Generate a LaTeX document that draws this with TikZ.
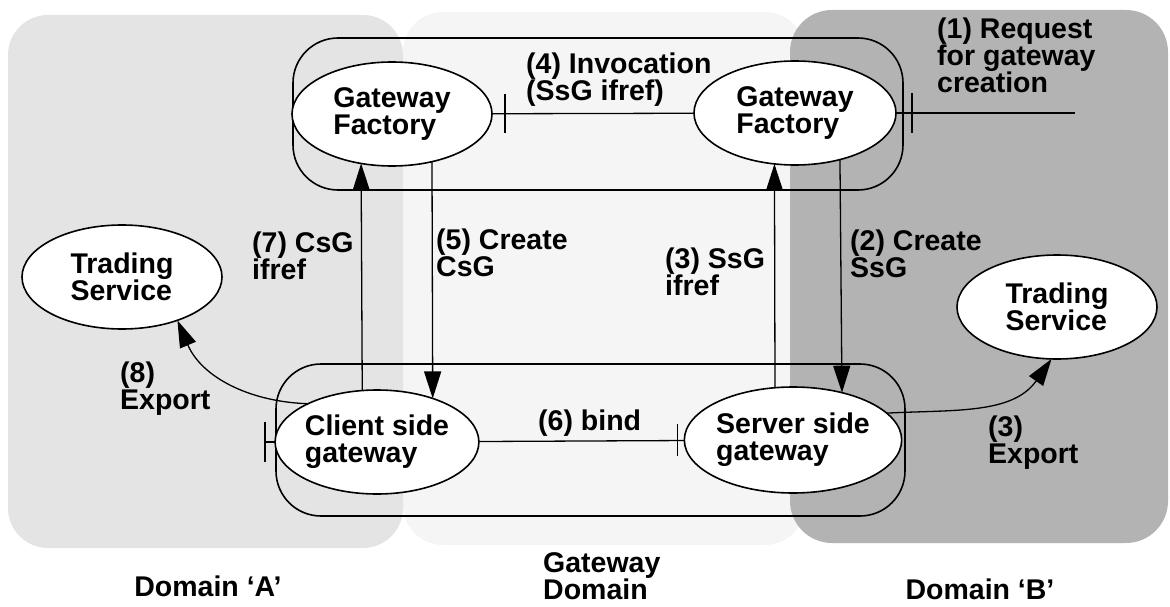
\documentclass[tikz,border=0pt]{standalone}
\usepackage{fontspec}
\setmainfont{Liberation Sans}
\usetikzlibrary{arrows.meta,shapes.geometric,calc}
\definecolor{domA}{RGB}{228,228,228}
\definecolor{domG}{RGB}{245,245,245}
\definecolor{domB}{RGB}{179,179,179}
\begin{document}
\begin{tikzpicture}[x=1pt,y=-1pt,
  every node/.style={font=\fontsize{28.5}{27}\selectfont\bfseries},
  proc/.style={ellipse, draw, line width=1.6pt, fill=white, inner sep=0pt, outer sep=0pt,
               align=left, minimum width=200pt, minimum height=104pt},
  lbl/.style={anchor=north west, align=left, inner sep=0pt},
  dlbl/.style={anchor=north, align=center, inner sep=0pt},
  conn/.style={line width=1.3pt},
  arr/.style={conn, -{Triangle[length=27pt,width=17pt]}},
  grp/.style={draw, line width=1.6pt, rounded corners=45pt},
  tickmark/.style={line width=1.3pt}]
\useasboundingbox (0,0) rectangle (1170,607);
% domains
\fill[domG, rounded corners=40pt] (403,12) rectangle (805,545);
\fill[domA, rounded corners=40pt] (8,15) rectangle (403,548);
\fill[domB, rounded corners=42pt] (790,10) rectangle (1168,543);
% group boxes
\draw[grp] (293,38) rectangle (903,190);
\draw[grp] (276,364) rectangle (905,516);
% ellipses
\node[proc] (gfl) at (392,114) {Gateway\\Factory};
\node[proc, minimum width=202pt] (gfr) at (795,113) {Gateway\\Factory};
\node[proc] (tsl) at (122,277) {Trading\\Service};
\node[proc] (tsr) at (1057,307) {Trading\\Service};
\node[proc, minimum width=198pt] (csg) at (377,442) {Client side\\gateway};
\node[proc, minimum width=202pt, minimum height=106pt] (ssg) at (793,440) {Server side\\gateway};
% invocation
\draw[conn] (gfl) -- (gfr);
\draw[tickmark] ([xshift=13pt]gfl.east) ++(0,-19.5) -- ++(0,39);
% request
\coordinate (reqend) at (1075,113);
\draw[conn] (gfr) -- (reqend);
\draw[tickmark] ([xshift=16pt]gfr.east) ++(0,-20) -- ++(0,40);
% client stub
\coordinate (cstub) at (265,442);
\draw[conn] (csg.west) -- (cstub);
\draw[tickmark] (cstub) ++(0,-20) -- ++(0,40);
% bind
\draw[conn] (csg) -- (ssg);
\draw[tickmark] ([xshift=-7pt]ssg.west) ++(0,-16) -- ++(0,32);
% vertical arrows
\draw[arr] (csg.106.3) -- (gfl.238.8);
\draw[arr] (gfl.310) -- (csg.38.1);
\draw[arr] (ssg.109) -- (gfr.248.6);
\draw[arr] (gfr.314) -- (ssg.44.9);
% export curves
\draw[arr] (csg.151) to[out=178,in=-67] (tsl.322);
\draw[arr] (ssg.16.4) to[out=3,in=235] (tsr.264.7);
% labels
\node[lbl] (linv) at (526,53) {(4) Invocation\\(SsG ifref)};
\node[lbl] (lreq) at (937,18) {(1) Request\\for gateway\\creation};
\node[lbl] (l7) at (252,232) {(7) CsG\\ifref};
\node[lbl] (l5) at (436,229) {(5) Create\\CsG};
\node[lbl] (l3s) at (665,248) {(3) SsG\\ifref};
\node[lbl] (l2) at (850,230) {(2) Create\\SsG};
\node[lbl] (l8) at (120,362) {(8)\\Export};
\node[lbl] (l6) at (538,410) {(6) bind};
\node[lbl] (l3e) at (988,416) {(3)\\Export};
\node[dlbl] (dA) at (208,576) {Domain ‘A’};
\node[lbl] (dG) at (543,552) {Gateway\\Domain};
\node[dlbl] (dB) at (980,579) {Domain ‘B’};
\end{tikzpicture}
\end{document}
